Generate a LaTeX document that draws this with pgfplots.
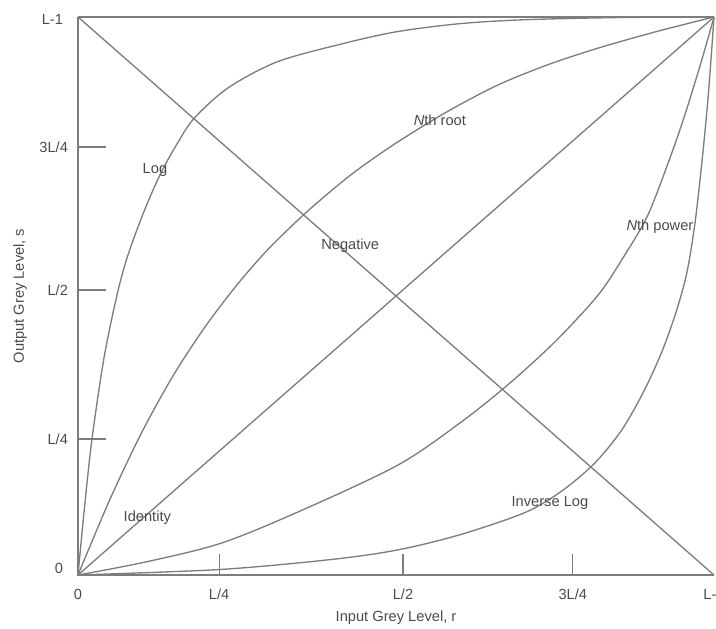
\documentclass[border=0pt]{standalone}
\usepackage{pgfplots}
\pgfplotsset{compat=1.18}
\usepackage{fontspec}
\setmainfont{Liberation Sans}
\usetikzlibrary{calc}
\definecolor{linegrey}{RGB}{125,125,125}
\definecolor{textgrey}{RGB}{75,75,75}

% curves, x and y as fractions of L-1
\pgfplotstableread{
x      y
0      0
0.011  0.130
0.022  0.244
0.041  0.390
0.062  0.505
0.079  0.575
0.105  0.655
0.131  0.722
0.157  0.775
0.183  0.819
0.236  0.873
0.314  0.920
0.419  0.953
0.503  0.974
0.600  0.988
0.700  0.995
0.850  0.999
1.000  1.000
}\logcurve

\pgfplotstableread{
x      y
0      0
0.225  0.010
0.400  0.028
0.503  0.045
0.600  0.072
0.703  0.112
0.760  0.150
0.812  0.200
0.855  0.260
0.890  0.330
0.918  0.400
0.940  0.470
0.957  0.540
0.970  0.630
0.981  0.740
0.991  0.860
1.000  1.000
}\invlog

\pgfplotstableread{
x      y
0      0
0.05   0.135
0.10   0.255
0.15   0.358
0.20   0.445
0.25   0.520
0.30   0.585
0.36   0.651
0.43   0.718
0.50   0.774
0.58   0.830
0.66   0.878
0.74   0.915
0.82   0.945
0.91   0.974
1.00   1.000
}\nroot

\pgfplotstableread{
x      y
0      0
0.105  0.023
0.225  0.057
0.350  0.115
0.503  0.197
0.600  0.272
0.676  0.341
0.750  0.418
0.818  0.502
0.860  0.574
0.896  0.645
0.930  0.745
0.954  0.824
0.980  0.920
1.000  1.000
}\npower

\begin{document}
\begin{tikzpicture}[font=\fontsize{11}{13}\selectfont, text=textgrey]
\begin{axis}[
    scale only axis, width=477pt, height=418.5pt,
    xmin=0, xmax=1, ymin=0, ymax=1,
    axis line style={draw=none},
    tick align=inside, xtick pos=bottom, ytick pos=left,
    xtick={0.222,0.511,0.778}, xticklabels={L/4,L/2,3L/4},
    ytick={0.244,0.511,0.767}, yticklabels={L/4,L/2,3L/4},
    xtick style={linegrey, line width=1pt, /pgfplots/major tick length=16pt},
    ytick style={linegrey, line width=1pt, /pgfplots/major tick length=21pt},
    xticklabel style={yshift=-7pt, text=textgrey},
    yticklabel style={xshift=-4pt, text=textgrey},
    clip=false,
]
\draw[linegrey, line width=1.2pt] (axis cs:0,1) -- (axis cs:0,0) -- (axis cs:1,0);
\draw[linegrey, line width=1.2pt] (axis cs:0,1) -- (axis cs:1,1);

\addplot[linegrey, line width=1pt, mark=none] coordinates {(0,0) (1,1)};
\addplot[linegrey, line width=1pt, mark=none] coordinates {(0,1) (1,0)};
\addplot[linegrey, line width=1pt, mark=none, smooth] table {\logcurve};
\addplot[linegrey, line width=1pt, mark=none, smooth] table {\invlog};
\addplot[linegrey, line width=1pt, mark=none, smooth] table {\nroot};
\addplot[linegrey, line width=1pt, mark=none, smooth] table {\npower};

% end labels of the two axes
\node[anchor=north, yshift=-7pt] at (axis cs:0,0) {0};
\node[anchor=north, yshift=-7pt] at (axis cs:1,0) {L-1};
\node[anchor=east, xshift=-7.7pt, yshift=5pt] at (axis cs:0,0) {0};
\node[anchor=east, xshift=-7.7pt, yshift=-2pt] at (axis cs:0,1) {L-1};

% axis titles
\node[anchor=center, yshift=-32pt] at (axis cs:0.5,0) {Input Grey Level, r};
\node[anchor=center, rotate=90] at ([xshift=-43.5pt]axis cs:0,0.5) {Output Grey Level, s};

\node at (axis cs:0.121,0.726) {Log};
\node at (axis cs:0.569,0.815) {\textit{N}th root};
\node at (axis cs:0.428,0.590) {Negative};
\node at (axis cs:0.915,0.625) {\textit{N}th power};
\node at (axis cs:0.109,0.102) {Identity};
\node at (axis cs:0.742,0.129) {Inverse Log};

\coordinate (bl) at (axis cs:0,0);
\coordinate (tr) at (axis cs:1,1);
\end{axis}
\pgfresetboundingbox
\path[use as bounding box] ($(bl)+(-58.5pt,-39.75pt)$) rectangle ($(tr)+(1.5pt,12.75pt)$);
\end{tikzpicture}
\end{document}
